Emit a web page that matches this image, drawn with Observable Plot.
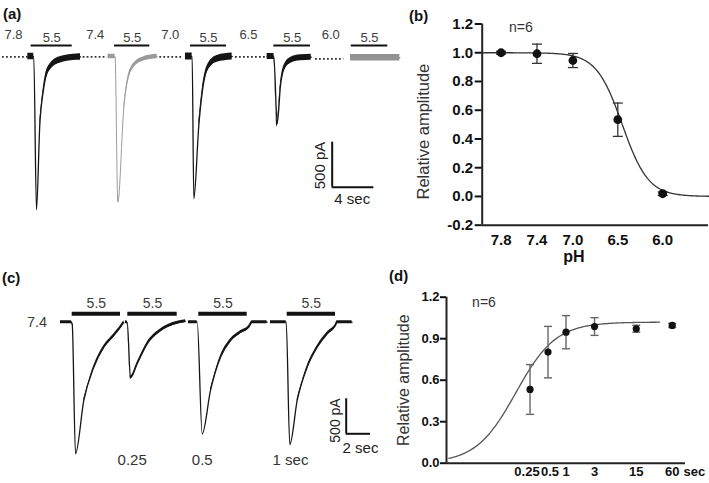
<!DOCTYPE html>
<html>
<head>
<meta charset="utf-8">
<script src="https://cdn.jsdelivr.net/npm/d3@7"></script>
<script src="https://cdn.jsdelivr.net/npm/@observablehq/plot@0.6"></script>
<style>
  body { margin: 0; background: #fff; }
  #fig { position: relative; width: 709px; height: 483px; overflow: hidden;
         font-family: Arial, "Liberation Sans", Helvetica, sans-serif; background: #fff; }
  #fig svg { position: absolute; left: 0; top: 0; overflow: visible; }
  .tag { position: absolute; font-weight: bold; font-size: 15px; line-height: 15px; color: #111; }
</style>
</head>
<body>
<div id="fig">
  <span class="tag" style="left:3px;top:6px">(a)</span>
  <span class="tag" style="left:409px;top:8px">(b)</span>
  <span class="tag" style="left:2px;top:270px">(c)</span>
  <span class="tag" style="left:389px;top:268px">(d)</span>
</div>
<script>
// ---------- (a) currents evoked by pH 5.5 after different conditioning pH ----------
const condPH   = ["7.8", "7.4", "7.0", "6.5", "6.0"];
const condT    = [1.06, 8.9, 16.1, 23.6, 31.5];          // s, where each conditioning label sits
const restA    = [[0, 2.4, -5], [7.74, 10.05, -5], [15.1, 17.4, -5], [22.36, 25.24, -5], [30.04, 32.76, -26]]; // dotted baseline [t0, t1, pA]
const pulseA   = [[2.75, 6.69], [10.75, 14.14], [18.04, 21.5], [26.04, 29.56], [33.47, 36.98]];       // pH 5.5 application [t0, t1]
// sweeps: [time s, current pA]
const sweep78 = [[2.43, 0], [3.0, 0], [3.26, -1703], [3.58, -759], [3.91, -389], [4.13, -237], [4.61, -111], [5.57, -37], [7.17, -7], [7.49, -5]];
const sweep74 = [[10.14, 0], [10.8, 0], [11.07, -1619], [11.64, -578], [11.97, -286], [12.6, -100], [13.56, -26], [14.85, 0]];
const sweep70 = [[17.56, 0], [18.2, 0], [18.36, -1581], [18.84, -767], [19.17, -397], [19.65, -137], [20.6, -26], [22.04, 0]];
const sweep65 = [[25.4, 0], [26.04, 0], [26.36, -748], [26.68, -322], [27.0, -137], [27.64, -44], [28.6, -14], [29.63, -8]];
const sweep60 = [[33.4, -14], [38.13, -14]];
const noiseA  = [36, 24, 38, 34, 36];                    // pA, half peak-to-peak
const scaleA  = {t: 31.64, pA: -1452, dI: 500, dt: 4};

// ---------- (b) steady-state desensitisation ----------
const phB    = [7.8, 7.4, 7.0, 6.5, 6.0];
const ampB   = [1.0, 0.993, 0.946, 0.534, 0.019];
const semB   = [0.01, 0.067, 0.049, 0.116, 0.012];
const phTicksB  = [7.8, 7.4, 7.0, 6.5, 6.0];
const ampTicksB = [-0.2, 0, 0.2, 0.4, 0.6, 0.8, 1.0, 1.2];
const hillB  = {pH50: 6.45, n: 3.0};

// ---------- (c) paired pulses at pH 7.4 with increasing intervals ----------
const pulseC   = [[0.963, 4.938], [5.539, 9.605], [11.383, 15.366], [18.658, 22.634]];
const gapLabels = ["0.25", "0.5", "1 sec"];
const gapT      = [5.9, 11.663, 18.93];
const sweepC1 = [[0, 4], [0.88, 4], [0.963, -20], [1.235, -1876], [1.918, -1114], [2.741, -639], [3.564, -353], [4.387, -186], [4.938, -67], [5.21, 4]];
const sweepC2 = [[5.35, 4], [5.49, 0], [5.761, -790], [6.313, -590], [7.136, -304], [8.23, -114], [9.325, -19], [10.288, 19]];
const sweepC3 = [[10.535, 4], [11.251, 4], [11.663, -1590], [12.346, -971], [13.169, -496], [13.992, -257], [14.815, -139], [15.498, -67], [15.778, 4], [17.0, 4]];
const sweepC4 = [[17.284, 4], [18.576, 4], [18.872, -1743], [19.481, -1114], [20.305, -639], [21.128, -353], [21.95, -161], [22.634, -43], [22.774, 4], [24.0, 4]];
const scaleC  = {t: 23.514, pA: -1590, dI: 500, dt: 2};

// ---------- (d) recovery from desensitisation ----------
const gapD   = [0.25, 0.5, 1, 3, 15, 60];
const ampD   = [0.533, 0.803, 0.947, 0.988, 0.972, 0.996];
const semD   = [0.18, 0.186, 0.12, 0.064, 0.025, 0.015];
const ampTicksD = [0, 0.3, 0.6, 0.9, 1.2];
const hillD  = {top: 1.02, t50: 0.145, n: 1.3};

const font = "Arial, 'Liberation Sans', Helvetica, sans-serif";
const plotStyle = {background: "none", fontFamily: font, color: "#111"};
const fig = document.getElementById("fig");

// horizontal error-bar cap
const cap = {draw(ctx, size) { const w = Math.sqrt(size / Math.PI); ctx.moveTo(-w, 0); ctx.lineTo(w, 0); }};

// a current sweep: thin line plus a band for the recording noise once the current is small
function traceMarks(sweep, ink, noise, edge, width) {
  return [
    Plot.areaY(sweep, {x: d => d[0], y1: d => d[1] > edge ? d[1] - noise : NaN, y2: d => d[1] > edge ? d[1] + noise : NaN,
      curve: "monotone-x", fill: ink}),
    Plot.line(sweep, {x: d => d[0], y: d => d[1], curve: "monotone-x", stroke: ink, strokeWidth: width})
  ];
}

// (a): 10.42 px per s, 0.09 px per pA, zero current 56 px from top
const secA = 10.42, pAA = 0.09, zeroA = 56;
const inkA = ["#151515", "#9a9a9a", "#151515", "#151515", "#929292"];
const sweepsA = [sweep78, sweep74, sweep70, sweep65, sweep60];
fig.append(Plot.plot({
  width: 709, height: 483, margin: 0, style: plotStyle,
  x: {domain: [-2 / secA, 707 / secA], range: [0, 709], axis: null},
  y: {domain: [(zeroA - 483) / pAA, zeroA / pAA], range: [483, 0], axis: null},
  marks: [
    Plot.ruleY(restA, {x1: d => d[0], x2: d => d[1], y: d => d[2], stroke: "#333", strokeWidth: 1.8, strokeDasharray: "1.8 2.2"}),
    ...sweepsA.flatMap((s, i) => traceMarks(s, inkA[i], noiseA[i], -800, i === 1 ? 1 : 1.3)),
    Plot.ruleY(pulseA, {x1: d => d[0], x2: d => d[1], y: () => 122, stroke: "#111", strokeWidth: 2}),
    Plot.text(pulseA, {x: d => (d[0] + d[1]) / 2, y: () => 205, text: () => "5.5", fontSize: 13, fill: "#3c3c3c"}),
    Plot.text(condPH, {x: (d, i) => condT[i], y: () => 239, text: d => d, fontSize: 13, fill: "#3c3c3c"}),
    Plot.ruleX([scaleA], {x: d => d.t, y1: d => d.pA, y2: d => d.pA + d.dI, stroke: "#111", strokeWidth: 2}),
    Plot.ruleY([scaleA], {x1: d => d.t, x2: d => d.t + d.dt, y: d => d.pA, stroke: "#111", strokeWidth: 2}),
    Plot.text([scaleA], {x: d => d.t - 1.19, y: d => d.pA + d.dI / 2 - 9, text: d => `${d.dI} pA`, rotate: -90, fontSize: 15, fill: "#222"}),
    Plot.text([scaleA], {x: d => d.t + d.dt / 2 - 0.08, y: d => d.pA - 129, text: d => `${d.dt} sec`, fontSize: 15, fill: "#222"})
  ]
}));

// (b)
const fitB = d3.range(0, 253).map(i => 8.01 - i * 0.01).map(pH => ({pH, v: 1 / (1 + Math.pow(10, hillB.n * (hillB.pH50 - pH)))}));
const idxB = d3.range(phB.length);
fig.append(Plot.plot({
  width: 709, height: 483, style: plotStyle,
  marginLeft: 481.7, marginRight: 1, marginTop: 23.5, marginBottom: 258.3,
  x: {domain: [8.01, 5.49], axis: null},
  y: {domain: [-0.2, 1.2], axis: null},
  marks: [
    Plot.axisY(ampTicksB, {tickFormat: d => d.toFixed(1), tickSize: 7, tickPadding: 2, strokeWidth: 2, fontSize: 15, fontWeight: "bold", label: null}),
    Plot.text(phTicksB, {x: d => d, frameAnchor: "bottom", dy: 20, text: d => d.toFixed(1), fontSize: 15, fontWeight: "bold"}),
    Plot.ruleX([8.01], {strokeWidth: 2, stroke: "#222"}),
    Plot.ruleY([-0.2], {strokeWidth: 2, stroke: "#222"}),
    Plot.line(fitB, {x: "pH", y: "v", stroke: "#333", strokeWidth: 1.3}),
    Plot.ruleX(idxB, {x: i => phB[i], y1: i => ampB[i] - semB[i], y2: i => ampB[i] + semB[i], stroke: "#333", strokeWidth: 1.3}),
    Plot.dot(idxB, {x: i => phB[i], y: i => ampB[i] + semB[i], symbol: cap, r: 5, fill: "none", stroke: "#333", strokeWidth: 1.3}),
    Plot.dot(idxB, {x: i => phB[i], y: i => ampB[i] - semB[i], symbol: cap, r: 5, fill: "none", stroke: "#333", strokeWidth: 1.3}),
    Plot.dot(idxB, {x: i => phB[i], y: i => ampB[i], r: 4.4, fill: "#111"}),
    Plot.text(["n=6"], {x: () => 7.58, y: () => 1.178, fontSize: 14, fill: "#333"}),
    Plot.text(["Relative amplitude"], {frameAnchor: "left", textAnchor: "middle", dx: -58, dy: 7, rotate: -90, fontSize: 16.5, fill: "#333"}),
    Plot.text(["pH"], {x: () => 6.99, frameAnchor: "bottom", dy: 37, fontSize: 16, fontWeight: "bold"})
  ]
}));

// (c): 12.15 px per s, 0.07 px per pA, zero current 322 px from top
const secC = 12.15, pAC = 0.07, zeroC = 322;
fig.append(Plot.plot({
  width: 709, height: 483, margin: 0, style: plotStyle,
  x: {domain: [-60 / secC, 649 / secC], range: [0, 709], axis: null},
  y: {domain: [(zeroC - 483) / pAC, zeroC / pAC], range: [483, 0], axis: null},
  marks: [
    ...[sweepC1, sweepC2, sweepC3, sweepC4].flatMap(s => traceMarks(s, "#151515", 22, -1300, 1.3)),
    Plot.ruleY(pulseC, {x1: d => d[0], x2: d => d[1], y: () => 124, stroke: "#111", strokeWidth: 4}),
    Plot.text(pulseC, {x: d => (d[0] + d[1]) / 2, y: () => 267, text: () => "5.5", fontSize: 14, fill: "#3c3c3c"}),
    Plot.text(["7.4"], {x: () => -1.93, y: () => 0, fontSize: 14.5, fill: "#3c3c3c"}),
    Plot.text(gapLabels, {x: (d, i) => gapT[i], y: () => -1960, text: d => d, fontSize: 15, fill: "#333"}),
    Plot.ruleX([scaleC], {x: d => d.t, y1: d => d.pA, y2: d => d.pA + d.dI, stroke: "#111", strokeWidth: 2}),
    Plot.ruleY([scaleC], {x1: d => d.t, x2: d => d.t + d.dt, y: d => d.pA, stroke: "#111", strokeWidth: 2}),
    Plot.text([scaleC], {x: d => d.t - 0.88, y: d => d.pA + 190, text: d => `${d.dI} pA`, rotate: -90, fontSize: 14, fill: "#222"}),
    Plot.text([scaleC], {x: d => d.t + d.dt / 2 + 0.18, y: d => d.pA - 210, text: d => `${d.dt} sec`, fontSize: 15, fill: "#222"})
  ]
}));

// (d)
const fitD = d3.range(0, 181).map(i => Math.pow(10, -1.96 + i * 0.01959)).map(t => ({t, v: hillD.top / (1 + Math.pow(hillD.t50 / t, hillD.n))}));
const idxD = d3.range(gapD.length);
fig.append(Plot.plot({
  width: 709, height: 483, style: plotStyle,
  marginLeft: 446, marginRight: 24, marginTop: 296.7, marginBottom: 20.3,
  x: {type: "log", domain: [0.01, 100], axis: null},
  y: {domain: [0, 1.2], axis: null},
  marks: [
    Plot.axisY(ampTicksD, {tickFormat: d => d.toFixed(1), tickSize: 6, tickPadding: 1, strokeWidth: 2, fontSize: 13, fontWeight: "bold", label: null}),
    // the two shortest intervals sit close together: pull their labels slightly apart
    Plot.text(gapD, {x: d => d, frameAnchor: "bottom", dy: 13, dx: 0, text: d => String(d), fontSize: 13, fontWeight: "bold",
      filter: d => d > 0.5}),
    Plot.text(gapD, {x: d => d, frameAnchor: "bottom", dy: 13, dx: -3, text: d => String(d), fontSize: 13, fontWeight: "bold",
      filter: d => d === 0.25}),
    Plot.text(gapD, {x: d => d, frameAnchor: "bottom", dy: 13, dx: 2, text: d => String(d), fontSize: 13, fontWeight: "bold",
      filter: d => d === 0.5}),
    Plot.text(["sec"], {frameAnchor: "bottom-right", textAnchor: "start", dx: -2, dy: 13, fontSize: 13, fontWeight: "bold"}),
    Plot.ruleX([0.01], {strokeWidth: 2, stroke: "#222"}),
    Plot.ruleY([0], {strokeWidth: 2, stroke: "#222"}),
    Plot.line(fitD, {x: "t", y: "v", stroke: "#555", strokeWidth: 1.3}),
    Plot.ruleX(idxD, {x: i => gapD[i], y1: i => ampD[i] - semD[i], y2: i => ampD[i] + semD[i], stroke: "#666", strokeWidth: 1.4}),
    Plot.dot(idxD, {x: i => gapD[i], y: i => ampD[i] + semD[i], symbol: cap, r: 4, fill: "none", stroke: "#666", strokeWidth: 1.4}),
    Plot.dot(idxD, {x: i => gapD[i], y: i => ampD[i] - semD[i], symbol: cap, r: 4, fill: "none", stroke: "#666", strokeWidth: 1.4}),
    Plot.dot(idxD, {x: i => gapD[i], y: i => ampD[i], r: 3.6, fill: "#111"}),
    Plot.text(["n=6"], {x: () => 0.0424, y: () => 1.164, fontSize: 14, fill: "#333"}),
    Plot.text(["Relative amplitude"], {frameAnchor: "left", textAnchor: "middle", dx: -42.7, rotate: -90, fontSize: 16, fill: "#333"})
  ]
}));
</script>
</body>
</html>
